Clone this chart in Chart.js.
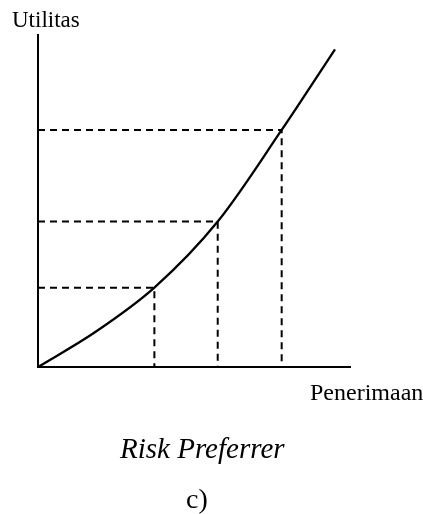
<!DOCTYPE html>
<html>
<head>
<meta charset="utf-8">
<title>Risk Preferrer</title>
<script src="https://cdn.jsdelivr.net/npm/chart.js"></script>
<style>
body{
    margin:0;
    background:white;
}
canvas{
    display:block;
}
</style>
</head>
<body>

<canvas id="chart" width="423" height="514"></canvas>

<script>

// utility curve (risk preferrer, convex)
const curveX = [0, 18.0, 37.3, 57.6, 78.1, 95.2];
const curveY = [0, 10.3, 23.9, 43.8, 71.4, 95.7];

// the three marked points with dashed guides to the axes
const markX = [37.3, 57.6, 78.1];
const markY = [23.9, 43.8, 71.4];

const yLabel = 'Utilitas';
const xLabel = 'Penerimaan';
const caption = 'Risk Preferrer';
const subCaption = 'c)';

const serif = '"Liberation Serif", "Times New Roman", serif';

const curveData = curveX.map((x, i) => ({x: x, y: curveY[i]}));

const guideSets = markX.map((x, i) => ({
    data: [{x: 0, y: markY[i]}, {x: x, y: markY[i]}, {x: x, y: 0}],
    borderColor: 'black',
    borderWidth: 2,
    borderDash: [7, 5],
    pointRadius: 0,
    tension: 0,
    clip: false
}));

// texts around the plot
const labelPlugin = {
    id: 'labels',
    afterDraw(chart) {
        const ctx = chart.ctx;
        const area = chart.chartArea;
        ctx.save();
        ctx.fillStyle = 'black';
        ctx.textAlign = 'left';
        ctx.textBaseline = 'alphabetic';

        ctx.font = '23px ' + serif;
        ctx.fillText(yLabel, area.left - 26, area.top - 8);

        ctx.font = '24px ' + serif;
        ctx.fillText(xLabel, area.right - 40, area.bottom + 33);

        ctx.font = 'italic 29px ' + serif;
        ctx.fillText(caption, 120, area.bottom + 91);

        ctx.font = '28px ' + serif;
        ctx.fillText(subCaption, 186, area.bottom + 141);
        ctx.restore();
    }
};

new Chart(document.getElementById('chart'), {
    type: 'line',
    data: {
        datasets: [
            {
                data: curveData,
                borderColor: 'black',
                borderWidth: 2.3,
                pointRadius: 0,
                cubicInterpolationMode: 'monotone',
                clip: false
            },
            ...guideSets
        ]
    },
    options: {
        responsive: false,
        animation: false,
        layout: {
            padding: {left: 30, top: 35, right: 73, bottom: 139}
        },
        plugins: {
            legend: {display: false},
            tooltip: {enabled: false}
        },
        scales: {
            x: {
                type: 'linear',
                min: 0,
                max: 100,
                ticks: {display: false},
                grid: {display: false},
                border: {display: true, color: 'black', width: 2}
            },
            y: {
                type: 'linear',
                min: 0,
                max: 100,
                ticks: {display: false},
                grid: {display: false},
                border: {display: true, color: 'black', width: 2}
            }
        }
    },
    plugins: [labelPlugin]
});

</script>

</body>
</html>
